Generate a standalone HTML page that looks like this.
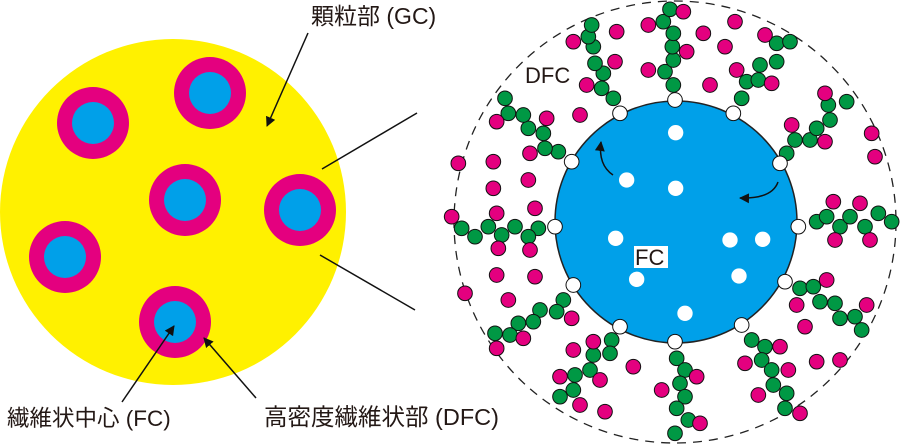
<!DOCTYPE html>
<html><head><meta charset="utf-8"><style>
html,body{margin:0;padding:0;background:#fff;width:900px;height:445px;overflow:hidden}
svg{display:block}
text{font-family:"Liberation Sans","Noto Sans CJK JP",sans-serif;fill:#231815}
</style></head><body>
<svg width="900" height="445" viewBox="0 0 900 445" xmlns="http://www.w3.org/2000/svg">
<defs>
<marker id="ah" viewBox="0 0 10 10" refX="9" refY="5" markerWidth="10" markerHeight="10" orient="auto" markerUnits="userSpaceOnUse"><path d="M0,0 L10,5 L0,10 z" fill="#111"/></marker>
</defs>
<circle cx="173" cy="212" r="173" fill="#fff100"/>
<g fill="#e4007f">
<circle cx="210" cy="93" r="36"/><circle cx="93" cy="123" r="36"/><circle cx="185" cy="200" r="36"/>
<circle cx="300" cy="210" r="36"/><circle cx="65" cy="257" r="36"/><circle cx="175" cy="322" r="36"/>
</g>
<g fill="#00a0e9">
<circle cx="210" cy="93" r="21"/><circle cx="93" cy="123" r="21"/><circle cx="185" cy="200" r="21"/>
<circle cx="300" cy="210" r="21"/><circle cx="65" cy="257" r="21"/><circle cx="175" cy="322" r="21"/>
</g>
<g stroke="#111" stroke-width="1.5">
<line x1="322" y1="169" x2="417" y2="113"/>
<line x1="320" y1="255" x2="415" y2="310"/>
<line x1="308" y1="33" x2="267" y2="126" marker-end="url(#ah)"/>
<line x1="122" y1="402" x2="174" y2="326" marker-end="url(#ah)"/>
<line x1="256" y1="398" x2="204" y2="338" marker-end="url(#ah)"/>
</g>
<text x="311" y="24" font-size="23">顆粒部 (GC)</text>
<text x="7" y="426" font-size="22.5">繊維状中心 (FC)</text>
<text x="264" y="425" font-size="23.5">高密度繊維状部 (DFC)</text>
<circle cx="675" cy="222" r="221" fill="none" stroke="#222" stroke-width="1.3" stroke-dasharray="9,7"/>
<circle cx="676" cy="222" r="121" fill="#00a0e9" stroke="#222" stroke-width="1.5"/>
<g transform="translate(440,0) scale(0.33333)">
<g fill="#009844" stroke="#111" stroke-width="3">
<circle cx="700" cy="255" r="22"/><circle cx="675" cy="215" r="22"/><circle cx="700" cy="180" r="22"/><circle cx="697" cy="140" r="22"/><circle cx="700" cy="100" r="22"/><circle cx="670" cy="65" r="22"/><circle cx="690" cy="28" r="22"/>
<circle cx="905" cy="295" r="22"/><circle cx="920" cy="245" r="22"/><circle cx="955" cy="240" r="22"/><circle cx="960" cy="195" r="22"/><circle cx="1010" cy="185" r="22"/><circle cx="1010" cy="130" r="22"/><circle cx="1050" cy="125" r="22"/>
<circle cx="1040" cy="460" r="22"/><circle cx="1065" cy="420" r="22"/><circle cx="1110" cy="420" r="22"/><circle cx="1130" cy="385" r="22"/><circle cx="1170" cy="360" r="22"/><circle cx="1165" cy="315" r="22"/><circle cx="1220" cy="305" r="22"/>
<circle cx="1130" cy="665" r="22"/><circle cx="1160" cy="650" r="22"/><circle cx="1200" cy="680" r="22"/><circle cx="1230" cy="650" r="22"/><circle cx="1275" cy="680" r="22"/><circle cx="1315" cy="640" r="22"/><circle cx="1355" cy="665" r="22"/>
<circle cx="1080" cy="865" r="22"/><circle cx="1120" cy="860" r="22"/><circle cx="1140" cy="905" r="22"/><circle cx="1185" cy="910" r="22"/><circle cx="1200" cy="955" r="22"/><circle cx="1245" cy="950" r="22"/><circle cx="1265" cy="990" r="22"/>
<circle cx="935" cy="1020" r="22"/><circle cx="975" cy="1040" r="22"/><circle cx="965" cy="1080" r="22"/><circle cx="995" cy="1110" r="22"/><circle cx="1000" cy="1155" r="22"/><circle cx="1040" cy="1180" r="22"/><circle cx="1035" cy="1225" r="22"/>
<circle cx="710" cy="1075" r="22"/><circle cx="735" cy="1110" r="22"/><circle cx="720" cy="1150" r="22"/><circle cx="735" cy="1190" r="22"/><circle cx="710" cy="1225" r="22"/><circle cx="745" cy="1260" r="22"/><circle cx="705" cy="1300" r="22"/>
<circle cx="515" cy="1020" r="22"/><circle cx="510" cy="1060" r="22"/><circle cx="460" cy="1065" r="22"/><circle cx="450" cy="1110" r="22"/><circle cx="405" cy="1125" r="22"/><circle cx="400" cy="1170" r="22"/><circle cx="360" cy="1190" r="22"/>
<circle cx="370" cy="900" r="22"/><circle cx="350" cy="935" r="22"/><circle cx="300" cy="930" r="22"/><circle cx="280" cy="965" r="22"/><circle cx="235" cy="970" r="22"/><circle cx="210" cy="1005" r="22"/><circle cx="165" cy="1000" r="22"/>
<circle cx="295" cy="685" r="22"/><circle cx="265" cy="710" r="22"/><circle cx="225" cy="680" r="22"/><circle cx="185" cy="705" r="22"/><circle cx="145" cy="680" r="22"/><circle cx="105" cy="710" r="22"/><circle cx="65" cy="685" r="22"/>
<circle cx="355" cy="455" r="22"/><circle cx="315" cy="445" r="22"/><circle cx="310" cy="400" r="22"/><circle cx="265" cy="385" r="22"/><circle cx="250" cy="345" r="22"/><circle cx="205" cy="340" r="22"/><circle cx="195" cy="295" r="22"/>
<circle cx="520" cy="295" r="22"/><circle cx="485" cy="265" r="22"/><circle cx="490" cy="220" r="22"/><circle cx="465" cy="190" r="22"/><circle cx="460" cy="140" r="22"/><circle cx="445" cy="110" r="22"/><circle cx="455" cy="75" r="22"/>
</g>
<g fill="#e4007f" stroke="#111" stroke-width="3">
<circle cx="740" cy="155" r="22"/><circle cx="625" cy="210" r="22"/><circle cx="625" cy="75" r="22"/><circle cx="730" cy="35" r="22"/>
<circle cx="890" cy="210" r="22"/><circle cx="995" cy="250" r="22"/><circle cx="975" cy="105" r="22"/>
<circle cx="1055" cy="375" r="22"/><circle cx="1155" cy="425" r="22"/><circle cx="1155" cy="280" r="22"/>
<circle cx="1180" cy="605" r="22"/><circle cx="1260" cy="610" r="22"/><circle cx="1185" cy="720" r="22"/><circle cx="1290" cy="720" r="22"/>
<circle cx="1160" cy="840" r="22"/><circle cx="1070" cy="915" r="22"/><circle cx="1280" cy="915" r="22"/>
<circle cx="1020" cy="1040" r="22"/><circle cx="915" cy="1090" r="22"/><circle cx="1045" cy="1110" r="22"/><circle cx="955" cy="1185" r="22"/><circle cx="1080" cy="1240" r="22"/>
<circle cx="770" cy="1130" r="22"/><circle cx="665" cy="1170" r="22"/><circle cx="780" cy="1270" r="22"/>
<circle cx="460" cy="1025" r="22"/><circle cx="400" cy="1050" r="22"/><circle cx="480" cy="1140" r="22"/><circle cx="360" cy="1130" r="22"/><circle cx="420" cy="1215" r="22"/>
<circle cx="395" cy="955" r="22"/><circle cx="250" cy="1015" r="22"/><circle cx="170" cy="1045" r="22"/>
<circle cx="270" cy="750" r="22"/><circle cx="170" cy="640" r="22"/><circle cx="175" cy="745" r="22"/><circle cx="35" cy="650" r="22"/>
<circle cx="270" cy="460" r="22"/><circle cx="320" cy="355" r="22"/><circle cx="170" cy="365" r="22"/>
<circle cx="440" cy="255" r="22"/><circle cx="525" cy="185" r="22"/><circle cx="400" cy="125" r="22"/>
<circle cx="530" cy="95" r="22"/><circle cx="790" cy="100" r="22"/><circle cx="855" cy="140" r="22"/><circle cx="885" cy="65" r="22"/><circle cx="810" cy="255" r="22"/><circle cx="420" cy="345" r="22"/>
<circle cx="1295" cy="400" r="22"/><circle cx="1305" cy="470" r="22"/><circle cx="160" cy="485" r="22"/><circle cx="160" cy="565" r="22"/><circle cx="265" cy="540" r="22"/><circle cx="285" cy="625" r="22"/><circle cx="55" cy="490" r="22"/>
<circle cx="170" cy="825" r="22"/><circle cx="285" cy="830" r="22"/><circle cx="75" cy="880" r="22"/><circle cx="205" cy="900" r="22"/>
<circle cx="1095" cy="980" r="22"/><circle cx="1130" cy="1085" r="22"/><circle cx="1200" cy="1080" r="22"/><circle cx="580" cy="1100" r="22"/><circle cx="495" cy="1235" r="22"/>
</g>
<g fill="#fff" stroke="#111" stroke-width="3">
<circle cx="705" cy="300" r="22"/><circle cx="880" cy="340" r="22"/><circle cx="1020" cy="490" r="22"/><circle cx="1075" cy="680" r="22"/><circle cx="1035" cy="845" r="22"/><circle cx="905" cy="975" r="22"/><circle cx="705" cy="1025" r="22"/><circle cx="540" cy="980" r="22"/><circle cx="400" cy="855" r="22"/><circle cx="345" cy="680" r="22"/><circle cx="395" cy="485" r="22"/><circle cx="540" cy="340" r="22"/>
</g>
<g fill="#fff" stroke="none">
<circle cx="707" cy="398" r="23"/><circle cx="560" cy="540" r="23"/><circle cx="707" cy="565" r="23"/><circle cx="527" cy="715" r="23"/><circle cx="870" cy="720" r="23"/><circle cx="968" cy="718" r="23"/><circle cx="590" cy="838" r="23"/><circle cx="897" cy="828" r="23"/><circle cx="735" cy="940" r="23"/>
</g>
</g>
<path d="M613,175 Q598,165 601,142" fill="none" stroke="#111" stroke-width="1.5" marker-end="url(#ah)"/>
<path d="M778,182 Q772,199 740,198" fill="none" stroke="#111" stroke-width="1.5" marker-end="url(#ah)"/>
<rect x="634" y="246" width="34" height="22" fill="#fff"/>
<text x="635" y="265" font-size="22">FC</text>
<text x="525" y="83" font-size="22">DFC</text>
</svg>
</body></html>
